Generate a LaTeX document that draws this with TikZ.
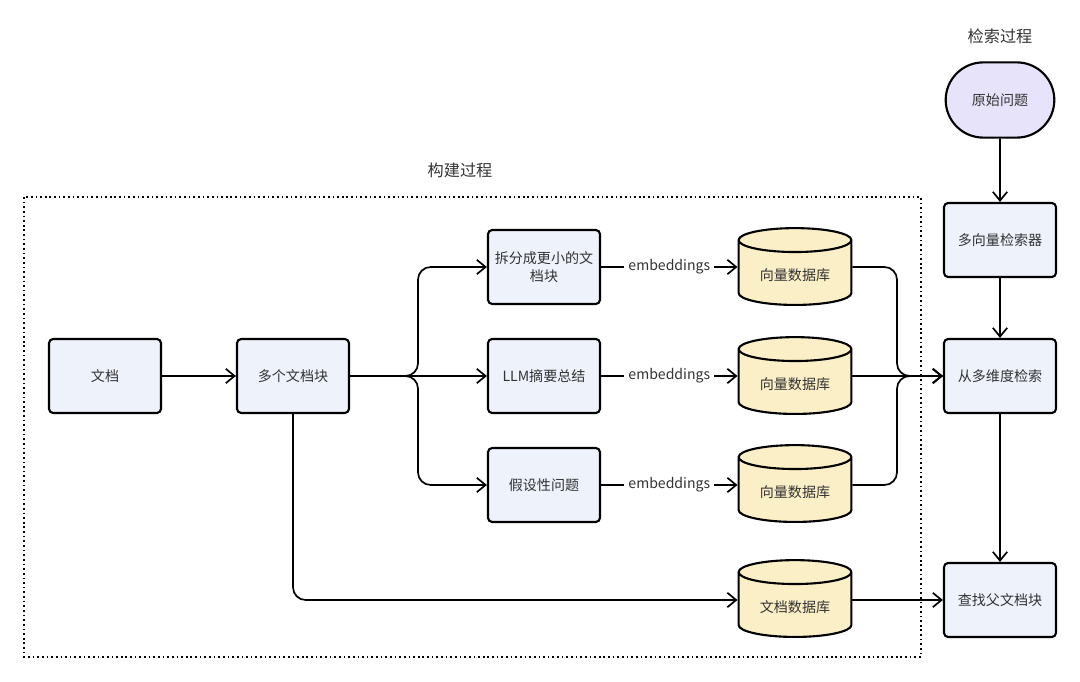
\documentclass[tikz,border=0pt]{standalone}
\usepackage{fontspec}
\setmainfont{Noto Sans CJK SC}
\usetikzlibrary{shapes.geometric,shapes.misc,arrows.meta}

\definecolor{boxfill}{HTML}{EEF2FB}
\definecolor{dbfill}{HTML}{FBEFC7}
\definecolor{qfill}{HTML}{E7E3FB}
\definecolor{txt}{HTML}{333333}

\begin{document}
\begin{tikzpicture}[x=0.025cm, y=-0.025cm,
    every node/.style={text=txt, font=\fontsize{10}{13}\selectfont},
    step box/.style={draw, line width=1.5pt, rounded corners=3pt, fill=boxfill,
      minimum width=2.8cm, minimum height=1.85cm, align=center},
    db/.style={draw, line width=1.5pt, fill=dbfill, cylinder, shape border rotate=90,
      aspect=0.3, minimum width=2.82cm, minimum height=1.92cm, anchor=south},
    question/.style={draw, line width=1.5pt, fill=qfill, rounded rectangle,
      minimum width=2.95cm, minimum height=1.88cm},
    conn/.style={draw, line width=1.2pt, -{Straight Barb[length=2.2mm, width=3.6mm]}},
    elabel/.style={fill=white, inner sep=3pt},
    title/.style={font=\fontsize{11.5}{14}\selectfont},
    ]
  \useasboundingbox (0,0) rectangle (1080,682);

  % build stage
  \draw[line width=1.2pt, dash pattern=on 1.2pt off 2.1pt] (24,197) rectangle (921,657);
  \node[title] (buildtitle) at (460,170) {构建过程};

  \node[step box] (doc) at (105,376) {文档};
  \node[step box] (chunks) at (293,376) {多个文档块};
  \node[step box] (split) at (544,267) {拆分成更小的文\\档块};
  \node[step box] (summary) at (544,376) {LLM摘要总结};
  \node[step box] (hypo) at (544,485) {假设性问题};

  \node[db] (vdb1) at (795,306) {向量数据库};
  \node[db] (vdb2) at (795,415) {向量数据库};
  \node[db] (vdb3) at (795,523) {向量数据库};
  \node[db] (docdb) at (795,638) {文档数据库};

  % retrieval stage
  \node[title] (searchtitle) at (1000,36) {检索过程};
  \node[question] (query) at (1000,100) {原始问题};
  \node[step box] (retriever) at (1000,240) {多向量检索器};
  \node[step box] (multi) at (1000,376) {从多维度检索};
  \node[step box] (parent) at (1000,600) {查找父文档块};

  \coordinate (fork) at (418,376);
  \coordinate (merge) at (897,376);

  \draw[conn] (doc) -- (chunks);
  \draw[conn, rounded corners=9pt] (chunks.east) -- (fork) |- (split);
  \draw[conn] (chunks.east) -- (summary);
  \draw[conn, rounded corners=9pt] (chunks.east) -- (fork) |- (hypo);
  \draw[conn, rounded corners=9pt] (chunks.south) |- (docdb.west |- parent);

  \draw[conn] (split) -- node[elabel] {embeddings} (split -| vdb1.west);
  \draw[conn] (summary) -- node[elabel] {embeddings} (summary -| vdb2.west);
  \draw[conn] (hypo) -- node[elabel] {embeddings} (hypo -| vdb3.west);

  \draw[conn, rounded corners=9pt] (vdb1.east |- split) -| (merge) -- (multi.west);
  \draw[conn] (vdb2.east |- merge) -- (multi.west);
  \draw[conn, rounded corners=9pt] (vdb3.east |- hypo) -| (merge) -- (multi.west);
  \draw[conn] (docdb.east |- parent) -- (parent);

  \draw[conn] (query) -- (retriever);
  \draw[conn] (retriever) -- (multi);
  \draw[conn] (multi) -- (parent);
\end{tikzpicture}
\end{document}
